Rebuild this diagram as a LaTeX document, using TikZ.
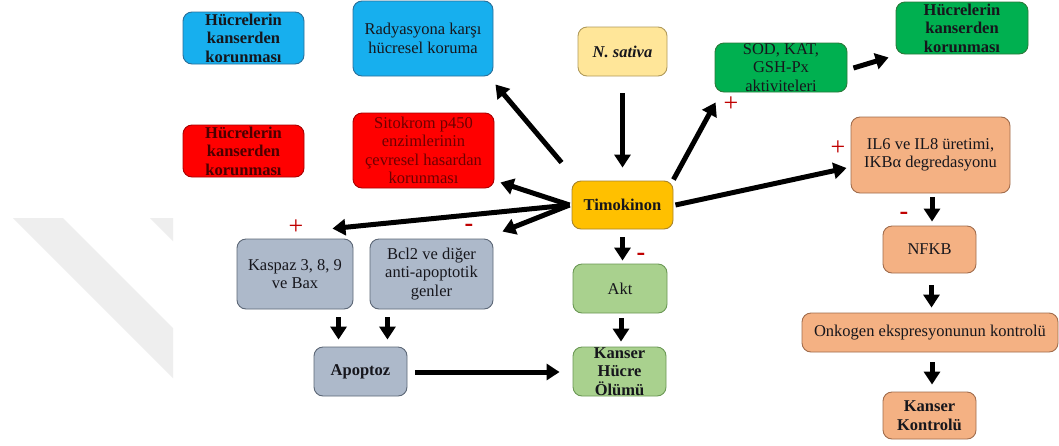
\documentclass[tikz,border=0pt]{standalone}
\usepackage{fontspec}
\setmainfont{Liberation Serif}
\usetikzlibrary{arrows.meta,calc}
\definecolor{blueF}{HTML}{17AFEE}
\definecolor{blueD}{HTML}{2A6F99}
\definecolor{redF}{HTML}{FF0000}
\definecolor{redD}{HTML}{A80000}
\definecolor{redT}{HTML}{4A0000}
\definecolor{greenF}{HTML}{00B050}
\definecolor{greenD}{HTML}{2A7A3A}
\definecolor{yelF}{HTML}{FFE699}
\definecolor{yelD}{HTML}{B09A5A}
\definecolor{oraF}{HTML}{FFC000}
\definecolor{oraD}{HTML}{A8842A}
\definecolor{peaF}{HTML}{F4B183}
\definecolor{peaD}{HTML}{A06C4C}
\definecolor{greyF}{HTML}{ADB9CA}
\definecolor{greyD}{HTML}{5C6776}
\definecolor{lgrF}{HTML}{A9D18E}
\definecolor{lgrD}{HTML}{6B9855}
\definecolor{signred}{HTML}{C00000}
\definecolor{wmark}{HTML}{EEEEEE}
\definecolor{txt}{HTML}{16161C}
\begin{document}
\begin{tikzpicture}[x=1pt,y=-1pt,
  box/.style={draw, rounded corners=9pt, line width=0.9pt, align=center, inner sep=0pt,
    font=\fontsize{16.5}{18.5}\selectfont, text=txt},
  bbox/.style={box, font=\fontsize{16.5}{18.5}\selectfont\bfseries},
  arr/.style={line width=5pt, -{Triangle[length=13pt,width=16pt]}},
  sign/.style={text=signred, font=\fontsize{26}{26}\selectfont, inner sep=0pt},
]
\useasboundingbox (0,0) rectangle (1059,445);
\fill[white] (0,0) rectangle (1059,445);
% faint watermark
\fill[wmark] (13,218) -- (63,218) -- (173,328) -- (173,378) -- cycle;
\fill[wmark] (150,218) -- (173,218) -- (173,241) -- cycle;

% nodes
\node[bbox, fill=blueF, draw=blueD, minimum width=121pt, minimum height=52pt] (blue1) at (243.5,38)
  {Hücrelerin\\kanserden\\korunması};
\node[box, fill=blueF, draw=blueD, minimum width=140pt, minimum height=75pt] (rady) at (423,38.5)
  {Radyasyona karşı\\hücresel koruma};
\node[bbox, fill=redF, draw=redD, text=redT, minimum width=121pt, minimum height=52pt] (red1) at (243.5,151)
  {Hücrelerin\\kanserden\\korunması};
\node[box, fill=redF, draw=redD, text=redT!80!red, minimum width=141pt, minimum height=75pt] (red2) at (423.5,150.5)
  {Sitokrom p450\\enzimlerinin\\çevresel hasardan\\korunması};
\node[box, fill=yelF, draw=yelD, minimum width=89pt, minimum height=49pt,
  font=\fontsize{16.5}{18.5}\selectfont\bfseries\itshape] (nsat) at (622.5,51.5) {N. sativa};
\node[box, fill=greenF, draw=greenD, minimum width=132pt, minimum height=49pt] (sod) at (781,67.5)
  {SOD, KAT,\\GSH-Px\\aktiviteleri};
\node[bbox, fill=greenF, draw=greenD, minimum width=132pt, minimum height=52pt] (green2) at (962,28)
  {Hücrelerin\\kanserden\\korunması};
\node[box, fill=peaF, draw=peaD, minimum width=159pt, minimum height=76pt] (il6) at (930.5,155)
  {IL6 ve IL8 üretimi,\\IKBα degredasyonu};
\node[bbox, fill=oraF, draw=oraD, minimum width=101pt, minimum height=48pt] (timo) at (622.5,205) {Timokinon};
\node[box, fill=greyF, draw=greyD, minimum width=116pt, minimum height=70pt] (kaspaz) at (295,274)
  {Kaspaz 3, 8, 9\\ve Bax};
\node[box, fill=greyF, draw=greyD, minimum width=123pt, minimum height=70pt] (bcl2) at (431.5,274)
  {Bcl2 ve diğer\\anti-apoptotik\\genler};
\node[bbox, fill=greyF, draw=greyD, minimum width=93pt, minimum height=49pt] (apop) at (360.5,371.5) {Apoptoz};
\node[box, fill=lgrF, draw=lgrD, minimum width=94pt, minimum height=49pt] (akt) at (620,288.5) {Akt};
\node[bbox, fill=lgrF, draw=lgrD, minimum width=93pt, minimum height=49pt] (khol) at (619.5,371.5)
  {Kanser\\Hücre\\Ölümü};
\node[box, fill=peaF, draw=peaD, minimum width=93pt, minimum height=47pt] (nfkb) at (929.5,249.5) {NFKB};
\node[box, fill=peaF, draw=peaD, minimum width=256pt, minimum height=39pt] (onk) at (930,332.5)
  {Onkogen ekspresyonunun kontrolü};
\node[bbox, fill=peaF, draw=peaD, minimum width=93pt, minimum height=47pt] (kk) at (929.5,415.5)
  {Kanser\\Kontrolü};

% arrows
\draw[arr] ($(nsat.south)+(0,17)$) -- ($(timo.north)+(0,-13)$);
\draw[arr] ($(timo.north west)+(-10,-18)$) -- ($(rady.south east)+(2,8)$);
\draw[arr] ($(timo.west)+(-2,0)$) -- ($(red2.south east)+(6,-6)$);
\draw[arr] ($(timo.west)+(-2,0)$) -- ($(kaspaz.north east)+(-21,-10)$);
\draw[arr] ($(timo.west)+(-2,0)$) -- ($(bcl2.north east)+(9,-7)$);
\draw[arr] ($(timo.north east)+(0,-1)$) -- ($(sod.south west)+(1,10)$);
\draw[arr] ($(sod.east)+(6,0.5)$) -- ($(green2.south west)+(-7,3)$);
\draw[arr] ($(timo.east)+(2,0)$) -- ($(il6.west)+(-4,13)$);
\draw[arr] ($(timo.south)+(0,8)$) -- ($(timo.south |- akt.north)+(0,-3)$);
\draw[arr] ($(akt.south)+(1,5)$) -- ($(akt.south |- khol.north)+(1,-5)$);
\draw[arr] ($(kaspaz.south -| apop.north west)+(25,8)$) -- ($(apop.north west)+(25,-7)$);
\draw[arr] ($(bcl2.south -| apop.north east)+(-20,8)$) -- ($(apop.north east)+(-20,-7)$);
\draw[arr] ($(apop.east)+(8,0.5)$) -- ($(khol.west)+(-13,0.5)$);
\draw[arr] ($(il6.south)+(1.5,4)$) -- ($(il6.south |- nfkb.north)+(1.5,-4)$);
\draw[arr] ($(nfkb.south)+(2,12)$) -- ($(nfkb.south |- onk.north)+(2,-5)$);
\draw[arr] ($(onk.south)+(2,10)$) -- ($(onk.south |- kk.north)+(2,-7)$);

% signs
\node[sign] (p1) at (296,227) {+};
\node[sign] (m1) at (469,228) {\textbf{-}};
\node[sign] (m2) at (641,257) {\textbf{-}};
\node[sign] (p2) at (731,104) {+};
\node[sign] (p3) at (838,148) {+};
\node[sign] (m3) at (904,216) {\textbf{-}};
\end{tikzpicture}
\end{document}
